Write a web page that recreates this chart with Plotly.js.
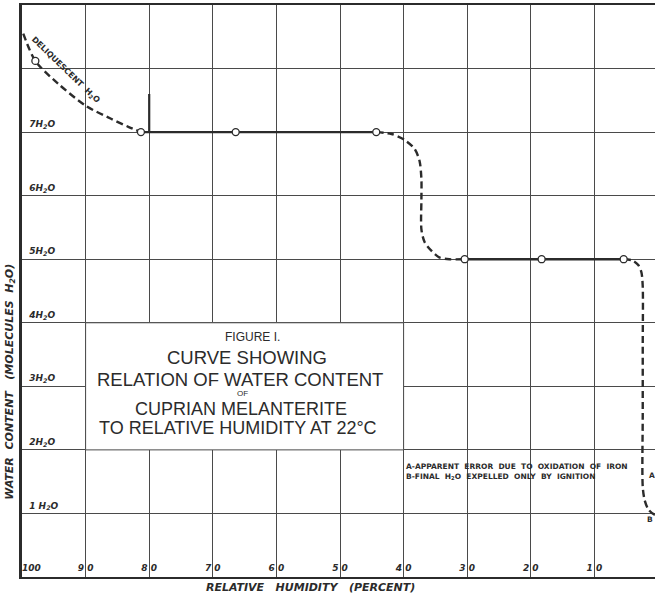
<!DOCTYPE html>
<html>
<head>
<meta charset="utf-8">
<script src="https://cdn.plot.ly/plotly-3.0.1.min.js"></script>
<style>
  html, body { margin: 0; padding: 0; background: #ffffff; overflow: hidden; }
  #chart { width: 659px; height: 597px; }
</style>
</head>
<body>
<div id="chart"></div>
<script>
// ---- data ----
const xTickVals = [100, 90, 80, 70, 60, 50, 40, 30, 20, 10];
const xTickText = ['\u00a0\u00a0\u00a0\u00a0\u00a0\u00a0100', '9 0', '8 0', '7 0', '6 0', '5 0', '4 0', '3 0', '2 0', '1 0'];
const yTickVals = [1, 2, 3, 4, 5, 6, 7, 8];
const yTickText = ['1 H<sub>2</sub>O', '2H<sub>2</sub>O', '3H<sub>2</sub>O', '4H<sub>2</sub>O',
                   '5H<sub>2</sub>O', '6H<sub>2</sub>O', '7H<sub>2</sub>O', ' '];

// deliquescent branch (dashed)
const deliqX = [99.8, 97.9, 94.3, 89.9, 86.0, 83.2, 81.3];
const deliqY = [8.55, 8.12, 7.76, 7.41, 7.21, 7.08, 7.0];
// 7 H2O plateau (solid)
const plateau7X = [81.3, 66.4, 44.3];
const plateau7Y = [7, 7, 7];
// 7 -> 5 transition (dashed)
const drop75X = [44.3, 41.9, 39.9, 38.3, 37.5, 37.2, 37.2, 37.2, 36.7, 35.6, 34.4, 32.8, 30.4];
const drop75Y = [7.0, 6.97, 6.88, 6.74, 6.55, 6.26, 5.95, 5.47, 5.27, 5.13, 5.03, 5.0, 5.0];
// 5 H2O plateau (solid)
const plateau5X = [30.4, 18.3, 5.4];
const plateau5Y = [5, 5, 5];
// 5 -> 1 transition (dashed)
const drop51X = [5.4, 4.0, 3.1, 2.6, 2.4, 2.4, 2.4, 2.4, 2.1, 1.5, 0.55, -0.3];
const drop51Y = [5.0, 4.98, 4.91, 4.79, 4.57, 3.65, 2.57, 1.42, 1.21, 1.06, 0.98, 0.97];
// observed points (open circles)
const obsX = [97.9, 81.3, 66.4, 44.3, 30.4, 18.3, 5.4];
const obsY = [8.12, 7, 7, 7, 5, 5, 5];
// short vertical stroke at 80 %
const strokeX = [80, 80];
const strokeY = [7.0, 7.6];

const titleLines = ['FIGURE I.', 'CURVE SHOWING', 'RELATION OF WATER CONTENT', 'OF',
                    'CUPRIAN MELANTERITE', 'TO RELATIVE HUMIDITY AT 22\u00b0C'];
const titleLineX = [63.7, 64.6, 65.7, 65.3, 65.6, 66.0];
const titleLineY = [3.77, 3.45, 3.11, 2.89, 2.65, 2.34];
const noteLines = ['A-APPARENT  ERROR  DUE  TO  OXIDATION  OF  IRON',
                   'B-FINAL  H<sub>2</sub>O  EXPELLED  ONLY  BY  IGNITION'];

// ---- styling ----
const ink = '#2b2b2b';
const gridCol = '#4a4a4a';
const dashStyle = '7px,4px';
const labFont = {family: 'DejaVu Sans', size: 9, color: ink, weight: 700, style: 'italic'};
const titleSizes = [12, 18.5, 18.5, 8, 18, 18];

const traces = [
  {x: deliqX, y: deliqY, mode: 'lines', line: {color: ink, width: 2.4, dash: dashStyle, shape: 'spline', smoothing: 0.8}, hoverinfo: 'skip'},
  {x: plateau7X, y: plateau7Y, mode: 'lines', line: {color: ink, width: 2.4}, hoverinfo: 'skip'},
  {x: drop75X, y: drop75Y, mode: 'lines', line: {color: ink, width: 2.4, dash: dashStyle, shape: 'spline', smoothing: 0.8}, hoverinfo: 'skip'},
  {x: plateau5X, y: plateau5Y, mode: 'lines', line: {color: ink, width: 2.4}, hoverinfo: 'skip'},
  {x: drop51X, y: drop51Y, mode: 'lines', line: {color: ink, width: 2.4, dash: dashStyle, shape: 'spline', smoothing: 0.8}, hoverinfo: 'skip'},
  {x: strokeX, y: strokeY, mode: 'lines', line: {color: ink, width: 2.2}, hoverinfo: 'skip'},
  {x: obsX, y: obsY, mode: 'markers', marker: {symbol: 'circle', size: 7, color: '#ffffff', line: {color: ink, width: 1.3}}, hoverinfo: 'skip'}
];

const annotations = [];
titleLines.forEach((t, i) => {
  annotations.push({
    x: titleLineX[i], y: titleLineY[i], xref: 'x', yref: 'y', text: t, showarrow: false,
    xanchor: 'center', yanchor: 'middle',
    font: {family: 'Liberation Sans', size: titleSizes[i], color: ink}
  });
});
annotations.push({
  x: 40, y: 1.66, xref: 'x', yref: 'y', text: noteLines.join('<br>'), showarrow: false,
  xanchor: 'left', yanchor: 'middle', align: 'left',
  font: {family: 'DejaVu Sans', size: 7.5, color: ink, weight: 700}
});
annotations.push({x: 1.0, y: 1.6, xref: 'x', yref: 'y', text: 'A', showarrow: false,
  font: {family: 'DejaVu Sans', size: 7.5, color: ink, weight: 700}});
annotations.push({x: 1.3, y: 0.9, xref: 'x', yref: 'y', text: 'B', showarrow: false,
  font: {family: 'DejaVu Sans', size: 7.5, color: ink, weight: 700}});
annotations.push({x: 93.2, y: 7.98, xref: 'x', yref: 'y', text: 'DELIQUESCENT  H<sub>2</sub>O', showarrow: false,
  textangle: 44, font: {family: 'DejaVu Sans', size: 8, color: ink, weight: 700}});
// axis titles
annotations.push({x: -0.019, y: 0.341, xref: 'paper', yref: 'paper', text: 'WATER  CONTENT   (MOLECULES  H<sub>2</sub>O)',
  showarrow: false, textangle: -90, xanchor: 'center', yanchor: 'middle',
  font: {family: 'DejaVu Sans', size: 11, color: ink, weight: 700, style: 'italic'}});
annotations.push({x: 0.453, y: -0.019, xref: 'paper', yref: 'paper', text: 'RELATIVE   HUMIDITY   (PERCENT)',
  showarrow: false, xanchor: 'center', yanchor: 'middle',
  font: {family: 'DejaVu Sans', size: 11, color: ink, weight: 700, style: 'italic'}});

const layout = {
  width: 659, height: 597,
  margin: {l: 22, r: 1, t: 5, b: 20},
  paper_bgcolor: '#ffffff', plot_bgcolor: '#ffffff',
  showlegend: false,
  xaxis: {
    range: [100, 0], tickmode: 'array', tickvals: xTickVals, ticktext: xTickText,
    ticklabelposition: 'inside', ticklabeloverflow: 'allow', ticks: '', ticklabelstandoff: 3,
    showgrid: true, gridcolor: gridCol, gridwidth: 1, zeroline: false,
    showline: true, linecolor: ink, linewidth: 2.2, mirror: true,
    tickfont: labFont, fixedrange: true
  },
  yaxis: {
    range: [0, 9], tickmode: 'array', tickvals: yTickVals, ticktext: yTickText,
    ticklabelposition: 'inside', ticklabeloverflow: 'allow', ticks: '', ticklabelstandoff: 6,
    ticklabelshift: -8,
    showgrid: true, gridcolor: gridCol, gridwidth: 1, zeroline: false,
    showline: true, linecolor: ink, linewidth: 2.6, mirror: true,
    tickfont: labFont, fixedrange: true
  },
  shapes: [
    {type: 'rect', xref: 'x', yref: 'y', x0: 90, x1: 40, y0: 2, y1: 4, layer: 'between',
     fillcolor: '#ffffff', line: {color: gridCol, width: 1}}
  ],
  annotations: annotations
};

Plotly.newPlot('chart', traces, layout, {displayModeBar: false, staticPlot: true});
</script>
</body>
</html>
